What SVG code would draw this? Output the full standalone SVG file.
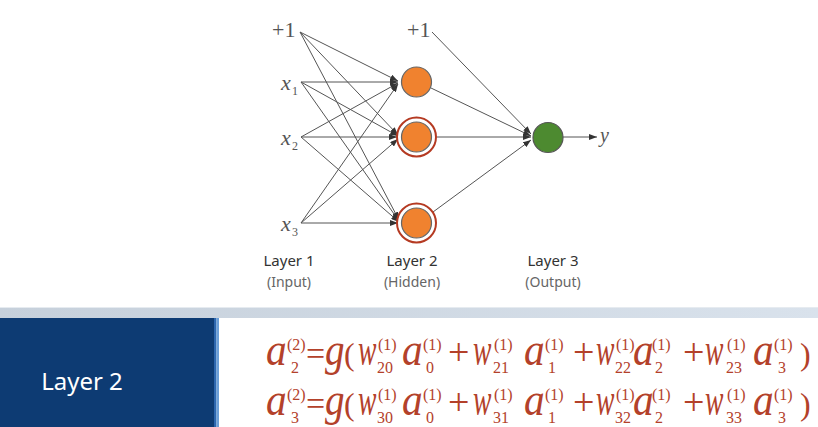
<svg xmlns="http://www.w3.org/2000/svg" width="818" height="427" viewBox="0 0 818 427">
<defs>
<marker id="ah" viewBox="0 0 8 6" refX="8" refY="3" markerWidth="8" markerHeight="6" markerUnits="userSpaceOnUse" orient="auto">
<path d="M0,0 L8,3 L0,6 z" fill="#333"/>
</marker>
<linearGradient id="bar" x1="0" y1="0" x2="1" y2="0">
<stop offset="0" stop-color="#c6d0db"/>
<stop offset="1" stop-color="#d9e2ec"/>
</linearGradient>
</defs>
<style>
.c{stroke:#555;stroke-width:1;fill:none;marker-end:url(#ah)}
.lbl{font-family:"Liberation Serif",serif;fill:#555}
.it{font-style:italic}
.hid{fill:#f0822f;stroke:#666;stroke-width:1.2}
.ring{fill:#fff;stroke:#b53a22;stroke-width:2}
.lay{font-family:"Noto Sans",sans-serif;font-size:15px;fill:#333;text-anchor:middle}
.sub2{font-family:"Noto Sans",sans-serif;font-size:14px;fill:#666;text-anchor:middle}
.f{font-family:"Liberation Serif",serif;fill:#b3412a}
.m{font-size:46px;font-style:italic}
.o{font-size:34px}
.pl{font-size:38px}
.p{font-size:32px}
.s{font-size:16px}
</style>
<rect width="818" height="427" fill="#fff"/>
<g id="connectors">
<line class="c" x1="300" y1="32" x2="398" y2="81"/>
<line class="c" x1="300" y1="32" x2="398" y2="135"/>
<line class="c" x1="300" y1="32" x2="399" y2="220"/>
<line class="c" x1="301" y1="82" x2="398" y2="82"/>
<line class="c" x1="301" y1="82" x2="398" y2="136"/>
<line class="c" x1="301" y1="82" x2="399" y2="221"/>
<line class="c" x1="301" y1="137" x2="398" y2="83"/>
<line class="c" x1="301" y1="137" x2="397" y2="137"/>
<line class="c" x1="301" y1="137" x2="399" y2="222"/>
<line class="c" x1="301" y1="223" x2="398" y2="84"/>
<line class="c" x1="301" y1="223" x2="398" y2="139"/>
<line class="c" x1="301" y1="223" x2="398" y2="223"/>
<line class="c" x1="432" y1="32" x2="531" y2="134"/>
<line class="c" x1="431" y1="88" x2="531" y2="136"/>
<line class="c" x1="437" y1="137" x2="531" y2="137"/>
<line class="c" x1="433" y1="212" x2="531" y2="140"/>
<line class="c" x1="563" y1="137" x2="597" y2="137"/>
</g>
<g id="in-bias"><text class="lbl" x="272" y="37" font-size="22">+1</text></g>
<g id="x1"><text class="lbl it" x="281" y="90" font-size="22">x</text><text class="lbl" x="292" y="95" font-size="12">1</text></g>
<g id="x2"><text class="lbl it" x="281" y="145" font-size="22">x</text><text class="lbl" x="292" y="150" font-size="12">2</text></g>
<g id="x3"><text class="lbl it" x="281" y="231" font-size="22">x</text><text class="lbl" x="292" y="236" font-size="12">3</text></g>
<g id="h1"><circle class="hid" cx="416.5" cy="82" r="15"/></g>
<g id="h2"><circle class="ring" cx="416.5" cy="137" r="19.5"/><circle class="hid" cx="416.5" cy="137" r="15"/></g>
<g id="h3"><circle class="ring" cx="416.5" cy="223" r="19.5"/><circle class="hid" cx="416.5" cy="223" r="15"/></g>
<g id="hid-bias"><text class="lbl" x="407" y="37" font-size="22">+1</text></g>
<g id="out"><circle cx="548" cy="137.5" r="15" fill="#4d8a30" stroke="#555" stroke-width="1.2"/></g>
<g id="y"><text class="lbl it" x="600" y="142" font-size="20">y</text></g>
<g id="labels">
<text class="lay" x="289" y="266">Layer 1</text>
<text class="sub2" x="289" y="287">(Input)</text>
<text class="lay" x="412" y="266">Layer 2</text>
<text class="sub2" x="412" y="287">(Hidden)</text>
<text class="lay" x="553" y="266">Layer 3</text>
<text class="sub2" x="553" y="287">(Output)</text>
</g>
<g id="banner">
<rect x="0" y="307" width="818" height="11" fill="url(#bar)"/>
<rect x="0" y="307" width="818" height="1" fill="#e6ebf0"/>
<rect x="0" y="318" width="214" height="109" fill="#0d3b73"/>
<rect x="214" y="318" width="2.5" height="109" fill="#2c66ae"/>
<rect x="216.5" y="318" width="2.5" height="109" fill="#6b9fd8"/>
<text x="82" y="390" font-family="'Noto Sans',sans-serif" font-size="24" fill="#fff" text-anchor="middle">Layer 2</text>
</g>
<g id="formula1" class="f">
<text class="m" transform="translate(266,365) scale(0.9,1)">a</text>
<text class="s" x="287" y="350">(2)</text><text class="s" x="291" y="373">2</text>
<text class="o" x="306" y="365">=</text>
<text class="m" transform="translate(325,365) scale(0.85,1)">g</text>
<text class="p" x="344" y="365">(</text>
<text class="m" transform="translate(358,365) scale(0.6,1)">w</text>
<text class="s" x="378" y="350">(1)</text><text class="s" x="377" y="373">20</text>
<text class="m" transform="translate(402,365) scale(0.9,1)">a</text>
<text class="s" x="423" y="350">(1)</text><text class="s" x="426" y="373">0</text>
<text class="pl" x="448" y="365">+</text>
<text class="m" transform="translate(473,365) scale(0.6,1)">w</text>
<text class="s" x="494" y="350">(1)</text><text class="s" x="493" y="373">21</text>
<text class="m" transform="translate(524,365) scale(0.9,1)">a</text>
<text class="s" x="545" y="350">(1)</text><text class="s" x="548" y="373">1</text>
<text class="pl" x="573" y="365">+</text>
<text class="m" transform="translate(596,365) scale(0.6,1)">w</text>
<text class="s" x="616" y="350">(1)</text><text class="s" x="615" y="373">22</text>
<text class="m" transform="translate(633,365) scale(0.9,1)">a</text>
<text class="s" x="652" y="350">(1)</text><text class="s" x="655" y="373">2</text>
<text class="pl" x="683" y="365">+</text>
<text class="m" transform="translate(705,365) scale(0.6,1)">w</text>
<text class="s" x="727" y="350">(1)</text><text class="s" x="726" y="373">23</text>
<text class="m" transform="translate(753,365) scale(0.9,1)">a</text>
<text class="s" x="774" y="350">(1)</text><text class="s" x="778" y="373">3</text>
<text class="p" x="800" y="365">)</text>
</g>
<g id="formula2" class="f">
<text class="m" transform="translate(266,415) scale(0.9,1)">a</text>
<text class="s" x="287" y="400">(2)</text><text class="s" x="291" y="423">3</text>
<text class="o" x="306" y="415">=</text>
<text class="m" transform="translate(325,415) scale(0.85,1)">g</text>
<text class="p" x="344" y="415">(</text>
<text class="m" transform="translate(358,415) scale(0.6,1)">w</text>
<text class="s" x="378" y="400">(1)</text><text class="s" x="377" y="423">30</text>
<text class="m" transform="translate(402,415) scale(0.9,1)">a</text>
<text class="s" x="423" y="400">(1)</text><text class="s" x="426" y="423">0</text>
<text class="pl" x="448" y="415">+</text>
<text class="m" transform="translate(473,415) scale(0.6,1)">w</text>
<text class="s" x="494" y="400">(1)</text><text class="s" x="493" y="423">31</text>
<text class="m" transform="translate(524,415) scale(0.9,1)">a</text>
<text class="s" x="545" y="400">(1)</text><text class="s" x="548" y="423">1</text>
<text class="pl" x="573" y="415">+</text>
<text class="m" transform="translate(596,415) scale(0.6,1)">w</text>
<text class="s" x="616" y="400">(1)</text><text class="s" x="615" y="423">32</text>
<text class="m" transform="translate(633,415) scale(0.9,1)">a</text>
<text class="s" x="652" y="400">(1)</text><text class="s" x="655" y="423">2</text>
<text class="pl" x="683" y="415">+</text>
<text class="m" transform="translate(705,415) scale(0.6,1)">w</text>
<text class="s" x="727" y="400">(1)</text><text class="s" x="726" y="423">33</text>
<text class="m" transform="translate(753,415) scale(0.9,1)">a</text>
<text class="s" x="774" y="400">(1)</text><text class="s" x="778" y="423">3</text>
<text class="p" x="800" y="415">)</text>
</g>
</svg>
